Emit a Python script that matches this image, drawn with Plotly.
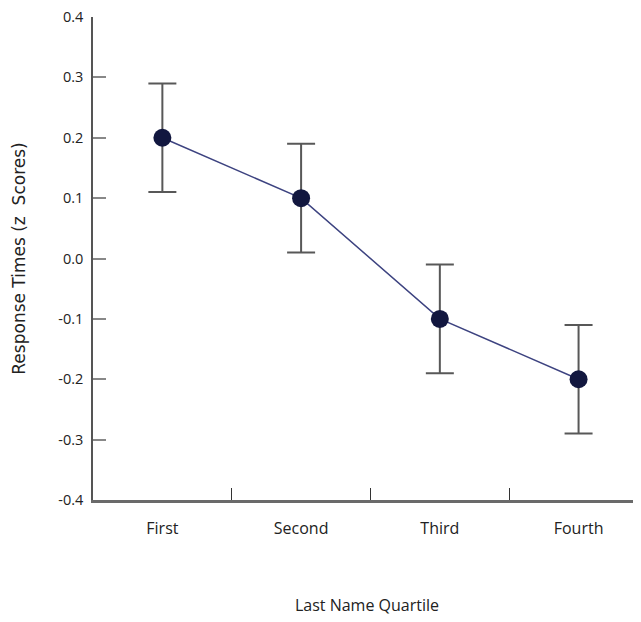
import plotly.graph_objects as go

categories = ["First", "Second", "Third", "Fourth"]
means = [0.2, 0.1, -0.1, -0.2]
errors = [0.09, 0.09, 0.09, 0.09]
y_ticks = [-0.4, -0.3, -0.2, -0.1, 0.0, 0.1, 0.2, 0.3, 0.4]
y_ticktext = ["-0.4", "-0.3", "-0.2", "-0.1", "0.0", "0.1", "0.2", "0.3", "0.4"]

FONT = "Open Sans, sans-serif"

fig = go.Figure()
fig.add_trace(go.Scatter(
    x=categories, y=means,
    mode="lines+markers",
    line=dict(color="#3d4380", width=1.5),
    marker=dict(color="#12173f", size=18),
    error_y=dict(type="data", array=errors, visible=True,
                 color="#585858", thickness=2, width=14),
    showlegend=False,
))

fig.update_layout(
    width=633, height=614,
    margin=dict(l=85, r=0, t=9, b=122, autoexpand=False),
    plot_bgcolor="white", paper_bgcolor="white",
    font=dict(family=FONT, size=14, color="#222"),
)
fig.update_xaxes(
    type="category", range=[-0.5, 3.45],
    tickson="boundaries", ticks="inside", ticklen=12, tickwidth=1.2, tickcolor="#333",
    showline=True, linecolor="#6a6a6a", linewidth=3,
    showgrid=False, zeroline=False, automargin=False,
    ticklabelstandoff=12,
    tickfont=dict(size=16, color="#222"),
    title=dict(text="Last Name Quartile", font=dict(size=16, color="#222"), standoff=62),
)
fig.update_yaxes(
    range=[-0.4, 0.4], tickvals=y_ticks, ticktext=y_ticktext,
    ticks="inside", ticklen=13, tickwidth=2, tickcolor="#888",
    showline=True, linecolor="#555", linewidth=1.5,
    showgrid=False, zeroline=False, automargin=False,
    ticklabelstandoff=5, ticklabeloverflow="allow",
    tickfont=dict(size=14.5, color="#222"),
    title=dict(text="Response Times (z  Scores)",
               font=dict(family="DejaVu Sans, sans-serif", size=17, color="#222"), standoff=28),
)

fig.write_html("out.html")
